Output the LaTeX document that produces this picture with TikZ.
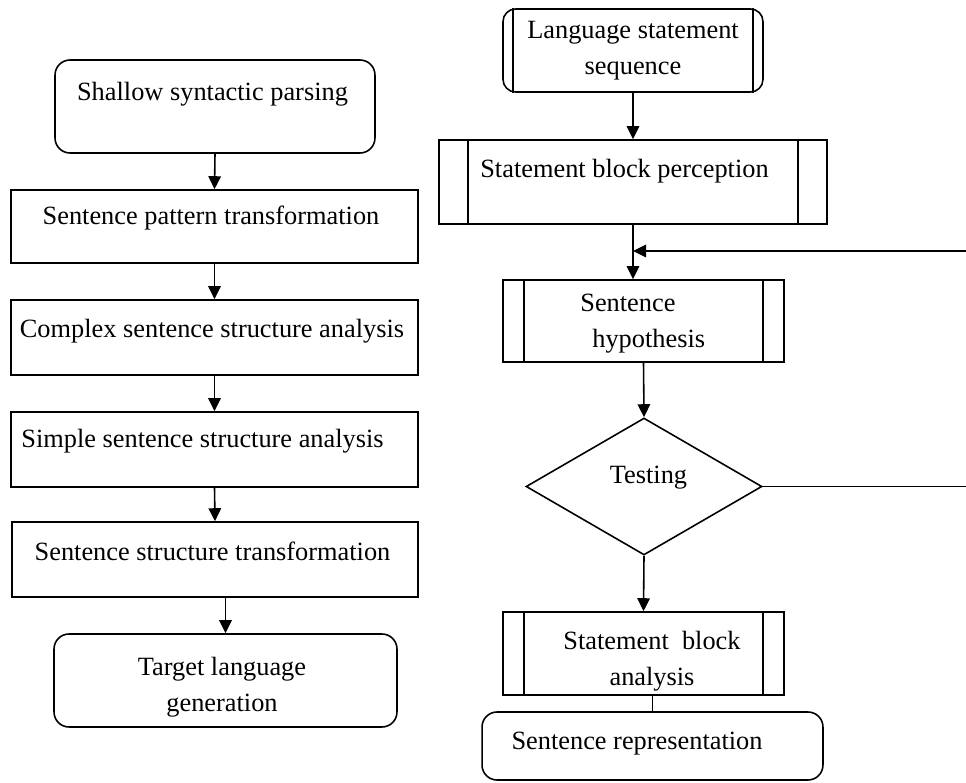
\documentclass[tikz,border=0pt]{standalone}
\usepackage{fontspec}
\setmainfont{Liberation Serif}
\usetikzlibrary{arrows.meta, shapes.geometric}

\begin{document}
\begin{tikzpicture}[x=0.02cm, y=-0.02cm,
  box/.style={draw, line width=0.9pt, inner sep=0pt},
  rbox/.style={box, rounded corners=0.3cm},
  txt/.style={font=\fontsize{15}{20.5}\selectfont, align=center, inner sep=0pt},
  one/.style={txt, text height=0.7em, text depth=0.25em},
  arrow/.style={-{Triangle[length=2.6mm, width=2.5mm]}, line width=0.9pt},
]
  \useasboundingbox (0,0) rectangle (966,783);

  % left column
  \node[rbox, minimum width=6.4cm, minimum height=1.86cm] (shallow) at (215,106.5) {};
  \node[box, minimum width=8.14cm, minimum height=1.46cm] (pattern) at (214.5,226.5) {};
  \node[box, minimum width=8.14cm, minimum height=1.5cm] (complex) at (214.5,337.5) {};
  \node[box, minimum width=8.14cm, minimum height=1.5cm] (simple) at (214.5,449.5) {};
  \node[box, minimum width=8.12cm, minimum height=1.5cm] (structtr) at (215,559.5) {};
  \node[rbox, minimum width=6.86cm, minimum height=1.86cm] (target) at (225.5,680.5) {};

  \node[one] (shallow-t) at (212.5,97) {Shallow syntactic parsing};
  \node[one] (pattern-t) at (211,221) {Sentence pattern transformation};
  \node[one] (complex-t) at (212,334) {Complex sentence structure analysis};
  \node[one] (simple-t) at (202.5,444) {Simple sentence structure analysis};
  \node[one] (structtr-t) at (212.5,557) {Sentence structure transformation};
  \node[txt] (target-t) at (222,687) {Target language\\generation};

  \draw[arrow] (shallow.south) -- (pattern.north);
  \draw[arrow] (pattern.south) -- (complex.north);
  \draw[arrow] (complex.south) -- (simple.north);
  \draw[arrow] (simple.south) -- (structtr.north);
  \draw[arrow] (structtr.south -| target.north) -- (target.north);

  % right column
  \node[box, rounded corners=0.25cm, minimum width=5.2cm, minimum height=1.66cm] (lss) at (633,50.5) {};
  \node[box, minimum width=7.76cm, minimum height=1.68cm] (sbp) at (633,182) {};
  \node[box, minimum width=5.62cm, minimum height=1.64cm] (hyp) at (643.5,321) {};
  \node[box, shape=diamond, minimum width=4.72cm, minimum height=2.74cm] (test) at (644,486.5) {};
  \node[box, minimum width=5.62cm, minimum height=1.66cm] (sba) at (643.5,653.5) {};
  \node[rbox, minimum width=6.82cm, minimum height=1.36cm] (sr) at (652.5,746) {};

  % side bars of the process boxes
  \foreach \n/\d in {lss/0.22cm, sbp/0.6cm, hyp/0.44cm, sba/0.44cm} {
    \draw[line width=0.9pt] ([xshift=\d]\n.north west) -- ([xshift=\d]\n.south west);
    \draw[line width=0.9pt] ([xshift=-\d]\n.north east) -- ([xshift=-\d]\n.south east);
  }

  \node[txt] (lss-t) at (633,51) {Language statement\\sequence};
  \node[one] (sbp-t) at (624.5,174) {Statement block perception};
  \node[txt, align=left, anchor=west] (hyp-t) at (580,324) {Sentence\\\hspace*{0.24cm}hypothesis};
  \node[one] (test-t) at (648.5,480) {Testing};
  \node[txt] (sba-t) at (652,661) {Statement\ \ block\\analysis};
  \node[one] (sr-t) at (637,746) {Sentence representation};

  \coordinate (back) at (980,251);

  \draw[arrow] (lss.south) -- (sbp.north);
  \draw[arrow] (sbp.south) -- (sbp.south |- hyp.north);
  \draw[arrow] (hyp.south) -- (test.north);
  \draw[arrow] (test.south) -- (sba.north);
  \draw[line width=0.9pt] (sr.north |- sba.south) -- (sr.north);
  \draw[arrow] (test.east) -- (test.east -| back) -- (back) -- (back -| sbp.south);
\end{tikzpicture}
\end{document}
